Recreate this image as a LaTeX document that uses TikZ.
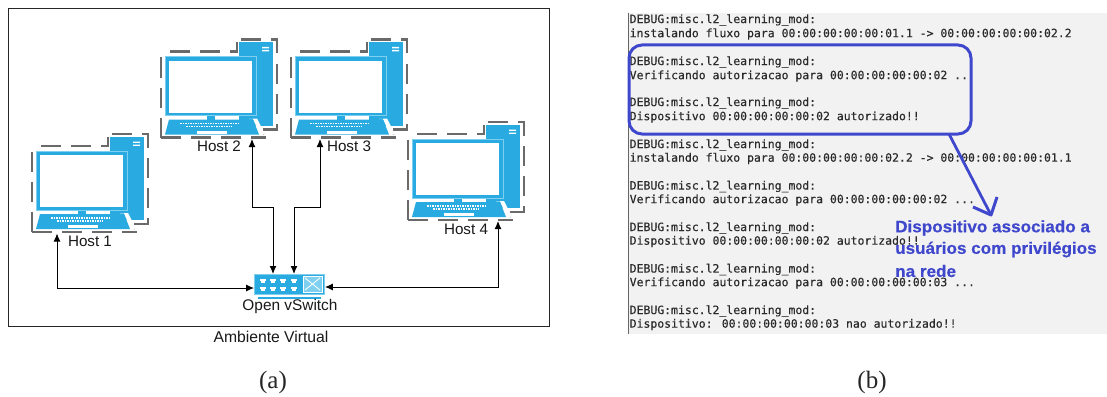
\documentclass[tikz,border=0pt]{standalone}
\usepackage{fontspec}
\usetikzlibrary{arrows.meta}
\setmainfont{Liberation Sans}
\newfontfamily\serifcap{Liberation Serif}
\newfontfamily\monotxt[FakeBold=0.25]{DejaVu Sans Mono}
\newfontfamily\notefont[FakeStretch=1.03,FakeBold=0.4]{Liberation Sans Bold}
\definecolor{hostblue}{HTML}{29ABE2}
\definecolor{hostlight}{HTML}{7FD0F0}
\definecolor{dashgray}{HTML}{6A6A6A}
\definecolor{termbg}{HTML}{F2F2F2}
\definecolor{termtxt}{HTML}{2A2A2A}
\definecolor{markblue}{HTML}{3F48CC}
\tikzset{
  x=1pt,y=-1pt,
  lbl/.style={inner sep=0pt,font=\fontsize{15.2}{16}\selectfont,text=black!90},
  subcap/.style={inner sep=0pt,font=\serifcap\fontsize{25}{26}\selectfont,text=black!85},
  term/.style={anchor=west,inner sep=0pt,font=\monotxt\fontsize{11.47}{12}\selectfont,text=termtxt},
  note/.style={anchor=west,inner sep=0pt,font=\notefont\fontsize{16.6}{17}\selectfont,text=markblue},
  link/.style={draw=black,line width=1pt,{Latex[length=8pt,width=7pt]}-{Latex[length=8pt,width=7pt]}},
  dashrun/.style={dashgray,line width=2.2pt,dash pattern=on 20pt off 10pt},
  hostpc/.pic={
    \draw[dashrun] (32,232) -- (32,146);
    \draw[dashrun] (41,146) -- (108,146) -- (108,137);
    \draw[dashrun] (112,134) -- (148,134) -- (148,224) -- (130,224);
    \draw[dashrun] (32,232) -- (137,232);
    \draw[dashgray,line width=1.6pt] (130,223) -- (135,229);
    \fill[hostblue] (110,137) rectangle (144,220);
    \fill[white] (133,141.5) rectangle (140,142.8) (133,144.5) rectangle (140,145.8);
    \fill[white] (86,209) rectangle (110,214);
    \fill[hostblue] (78,209) rectangle (86,214);
    \fill[hostblue,draw=hostlight,line width=0.8pt] (36,151) rectangle (127,210);
    \fill[white] (40,155) rectangle (123,207);
    \fill[white] (120,213.5) -- (124,213.5) -- (131,229) -- (136,229) -- (128,213) -- cycle;
    \fill[hostblue] (40,214) -- (124,214) -- (130,229) -- (36,229) -- cycle;
    \draw[white,line width=1.2pt,dash pattern=on 1.5pt off 1pt] (51,218) -- (111,218);
    \draw[white,line width=1.2pt,dash pattern=on 1.5pt off 1pt] (57,221) -- (103,221);
    \fill[white] (68,225) rectangle (98,228);
  }
}
\begin{document}
\begin{tikzpicture}
\useasboundingbox (0,0) rectangle (1107,396);
\fill[white] (0,0) rectangle (1107,396);
% panel (a)
\draw[black!85,line width=1pt] (8,9) rectangle (549,326);
\pic at (0,0) {hostpc};
\pic at (129,-94.5) {hostpc};
\pic at (259,-94.5) {hostpc};
\pic at (376,-12) {hostpc};
\node[lbl] (host1) at (90,241) {Host 1};
\node[lbl] (host2) at (219,146.5) {Host 2};
\node[lbl] (host3) at (349,146.5) {Host 3};
\node[lbl] (host4) at (466,229) {Host 4};
\coordinate (p1) at (57,233.5);
\coordinate (p2) at (252,139);
\coordinate (p3) at (320,139);
\coordinate (p4) at (498,221);
\coordinate (yl) at (0,288);
\coordinate (yr) at (0,287);
\coordinate (b2) at (273,207);
\coordinate (b3) at (294,207);
\coordinate (t2) at (273,274);
\coordinate (t3) at (294,274);
% switch
\node[draw=hostlight,line width=0.8pt,fill=hostblue,inner sep=0pt,minimum width=70pt,minimum height=20pt] (sw) at (289.5,284) {};
\fill[hostlight,draw=white,line width=0.6pt] (303,276) rectangle (322,292);
\draw[white,line width=0.8pt] (305,278) -- (320,290) (305,290) -- (320,278);
\foreach \x in {263,273,283,294} \foreach \y in {278.5,287} {
  \fill[white] (\x-3.3,\y) rectangle (\x+3.3,\y+2.2);
  \fill[white] (\x-2,\y+2.2) rectangle (\x+2,\y+4.2);
}
\fill[hostblue] (258,297) rectangle (321,299);
\node[lbl,font=\fontsize{15.4}{16}\selectfont] (swlabel) at (290,306.5) {Open vSwitch};
\draw[link] (p1) |- (sw.west |- yl);
\draw[link] (p2) |- (b2) -- (t2);
\draw[link] (p3) |- (b3) -- (t3);
\draw[link] (p4) |- (sw.east |- yr);
\node[lbl,font=\fontsize{15.7}{16}\selectfont] (env) at (271,336.5) {Ambiente Virtual};
\node[subcap] (capa) at (273,382) {(a)};
% panel (b)
\fill[termbg] (628,13) rectangle (1107,334);
\draw[black!60,line width=0.6pt] (628,13) -- (628,334);
\node[term] (l1) at (629.5,20) {DEBUG:misc.l2\_learning\_mod:};
\node[term] (l2) at (629.5,34) {instalando fluxo para 00:00:00:00:00:01.1 -> 00:00:00:00:00:02.2};
\node[term] (l3) at (629.5,62) {DEBUG:misc.l2\_learning\_mod:};
\node[term] (l4) at (629.5,76) {Verificando autorizacao para 00:00:00:00:00:02 ..};
\node[term] (l5) at (629.5,103) {DEBUG:misc.l2\_learning\_mod:};
\node[term] (l6) at (629.5,117) {Dispositivo 00:00:00:00:00:02 autorizado!!};
\node[term] (l7) at (629.5,145) {DEBUG:misc.l2\_learning\_mod:};
\node[term] (l8) at (629.5,158.5) {instalando fluxo para 00:00:00:00:00:02.2 -> 00:00:00:00:00:01.1};
\node[term] (l9) at (629.5,186.5) {DEBUG:misc.l2\_learning\_mod:};
\node[term] (l10) at (629.5,200) {Verificando autorizacao para 00:00:00:00:00:02 ...};
\node[term] (l11) at (629.5,228) {DEBUG:misc.l2\_learning\_mod:};
\node[term] (l12) at (629.5,241.5) {Dispositivo 00:00:00:00:00:02 autorizado!!};
\node[term] (l13) at (629.5,269.5) {DEBUG:misc.l2\_learning\_mod:};
\node[term] (l14) at (629.5,283) {Verificando autorizacao para 00:00:00:00:00:03 ...};
\node[term] (l15) at (629.5,311) {DEBUG:misc.l2\_learning\_mod:};
\node[term] (l16) at (629.5,324.5) {Dispositivo: 00:00:00:00:00:03 nao autorizado!!};
\draw[markblue,line width=3pt,rounded corners=13pt] (629,45) rectangle (971,134);
\coordinate (a0) at (949,134);
\coordinate (a1) at (991,215);
\coordinate (a2) at (973,207);
\coordinate (a3) at (997,197);
\draw[markblue,line width=2.8pt] (a0) -- (a1);
\draw[markblue,line width=3pt,line join=round] (a2) -- (a1) -- (a3);
\node[note] (n1) at (895,228) {Dispositivo associado a};
\node[note] (n2) at (895,249.5) {usuários com privilégios};
\node[note] (n3) at (895,271) {na rede};
\node[subcap] (capb) at (872,382) {(b)};
\end{tikzpicture}
\end{document}
